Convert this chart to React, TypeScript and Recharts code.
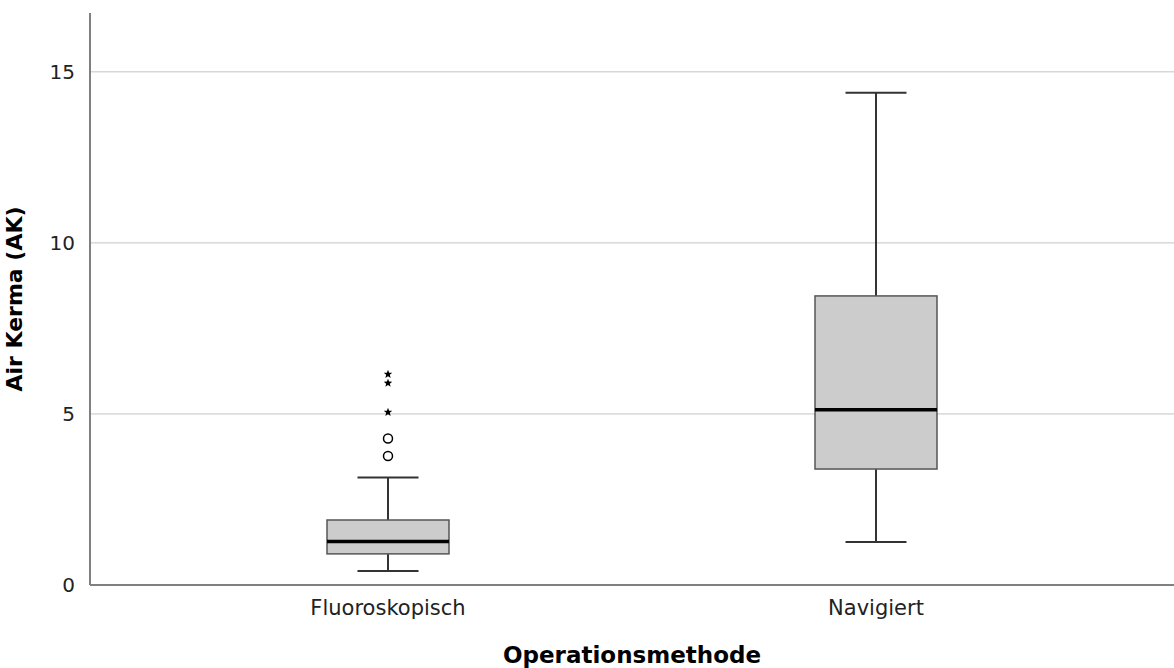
import React from 'react';
import { ComposedChart, Bar, Line, XAxis, YAxis, CartesianGrid, Label } from 'recharts';

const categories = ['Fluoroskopisch', 'Navigiert'];
const whiskerLow = [0.41, 1.26];
const q1 = [0.91, 3.39];
const median = [1.27, 5.12];
const q3 = [1.9, 8.45];
const whiskerHigh = [3.14, 14.39];
const mildOutliers: number[][] = [[3.77, 4.28], []];
const extremeOutliers: number[][] = [[5.05, 5.9, 6.16], []];
const yTicks = [0, 5, 10, 15];
const yMax = 16.72;

const maxMild = Math.max(...mildOutliers.map((a) => a.length));
const maxExt = Math.max(...extremeOutliers.map((a) => a.length));

const data = categories.map((name, i) => {
  const row: any = {
    name,
    box: [q1[i], q3[i]],
    lo: whiskerLow[i],
    q1: q1[i],
    med: median[i],
    q3: q3[i],
    hi: whiskerHigh[i],
  };
  for (let j = 0; j < maxMild; j++) row['m' + j] = mildOutliers[i][j] ?? null;
  for (let j = 0; j < maxExt; j++) row['e' + j] = extremeOutliers[i][j] ?? null;
  return row;
});

const FONT = 'DejaVu Sans';

const BoxShape = (props: any) => {
  const { x, y, width, height, payload } = props;
  const k = height / (payload.q3 - payload.q1);
  const py = (v: number) => y + (payload.q3 - v) * k;
  const cx = x + width / 2;
  const capL = x + width / 4;
  const capR = x + (3 * width) / 4;
  const yHi = py(payload.hi);
  const yLo = py(payload.lo);
  const yMed = py(payload.med);
  return (
    <g>
      <line x1={cx} x2={cx} y1={yHi} y2={y} stroke="#333" strokeWidth={2} />
      <line x1={cx} x2={cx} y1={y + height} y2={yLo} stroke="#333" strokeWidth={2} />
      <line x1={capL} x2={capR} y1={yHi} y2={yHi} stroke="#333" strokeWidth={2} />
      <line x1={capL} x2={capR} y1={yLo} y2={yLo} stroke="#333" strokeWidth={2} />
      <rect x={x} y={y} width={width} height={height} fill="#cccccc" stroke="#555" strokeWidth={1.5} />
      <line x1={x} x2={x + width} y1={yMed} y2={yMed} stroke="#000" strokeWidth={3.5} />
    </g>
  );
};

const CircleDot = (props: any) => {
  const { cx, cy, value, index, dataKey } = props;
  if (value === null || value === undefined || cy == null) return <g key={dataKey + index} />;
  return <circle key={dataKey + index} cx={cx} cy={cy} r={4.5} fill="#fff" stroke="#000" strokeWidth={1.5} />;
};

const StarDot = (props: any) => {
  const { cx, cy, value, index, dataKey } = props;
  if (value === null || value === undefined || cy == null) return <g key={dataKey + index} />;
  const pts: string[] = [];
  for (let i = 0; i < 10; i++) {
    const r = i % 2 === 0 ? 4.5 : 1.9;
    const a = -Math.PI / 2 + (i * Math.PI) / 5;
    pts.push(`${cx + r * Math.cos(a)},${cy + r * Math.sin(a)}`);
  }
  return <polygon key={dataKey + index} points={pts.join(' ')} fill="#000" />;
};

export default function App() {
  return (
    <div style={{ position: 'absolute', left: 0, top: 0, width: 1174, height: 668, background: '#fff' }}>
      <ComposedChart
        width={1174}
        height={668}
        data={data}
        margin={{ top: 13, right: 0, bottom: 0, left: 0 }}
      >
        <CartesianGrid vertical={false} stroke="#c4c4c4" strokeWidth={1} horizontalValues={[5, 10, 15]} />
        <XAxis
          dataKey="name"
          type="category"
          height={83}
          padding={{ left: 54, right: 54 }}
          tickLine={false}
          axisLine={{ stroke: '#808080', strokeWidth: 2 }}
          tickMargin={9}
          tick={{ fontFamily: FONT, fontSize: 21, fill: '#222' }}
        >
          <Label
            value="Operationsmethode"
            position="insideBottom"
            offset={5}
            style={{ fontFamily: FONT, fontSize: 23, fontWeight: 'bold', fill: '#000' }}
          />
        </XAxis>
        <YAxis
          type="number"
          domain={[0, yMax]}
          ticks={yTicks}
          width={90}
          tickLine={false}
          axisLine={{ stroke: '#808080', strokeWidth: 2 }}
          tickMargin={9}
          tick={{ fontFamily: FONT, fontSize: 20, fill: '#222' }}
          allowDataOverflow
        >
          <Label
            value="Air Kerma (AK)"
            angle={-90}
            position="insideLeft"
            offset={14}
            style={{ textAnchor: 'middle', fontFamily: FONT, fontSize: 22, fontWeight: 'bold', fill: '#000' }}
          />
        </YAxis>
        <Bar dataKey="box" barSize={122} shape={BoxShape} isAnimationActive={false} />
        {Array.from({ length: maxMild }, (_, j) => (
          <Line
            key={'m' + j}
            dataKey={'m' + j}
            stroke="none"
            dot={CircleDot}
            activeDot={false}
            isAnimationActive={false}
            connectNulls={false}
          />
        ))}
        {Array.from({ length: maxExt }, (_, j) => (
          <Line
            key={'e' + j}
            dataKey={'e' + j}
            stroke="none"
            dot={StarDot}
            activeDot={false}
            isAnimationActive={false}
            connectNulls={false}
          />
        ))}
      </ComposedChart>
    </div>
  );
}
